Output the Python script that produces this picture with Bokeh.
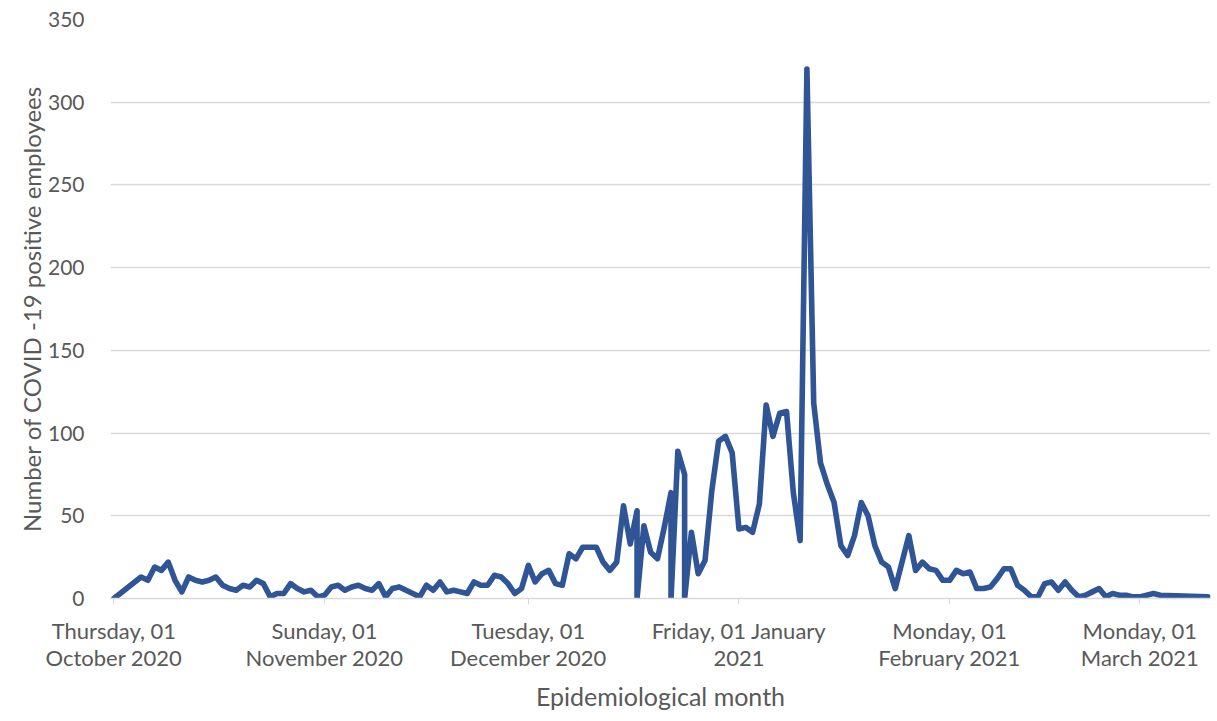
import pandas as pd
from bokeh.plotting import figure
from bokeh.models import Range1d, FixedTicker, ColumnDataSource
from bokeh.embed import file_html
from bokeh.resources import INLINE

# ---- data ----
report_dates = (
    ["2020-10-01", "2020-10-05", "2020-10-06", "2020-10-07", "2020-10-08", "2020-10-09",
     "2020-10-10", "2020-10-11", "2020-10-12", "2020-10-13", "2020-10-14", "2020-10-15",
     "2020-10-16", "2020-10-17", "2020-10-18", "2020-10-19", "2020-10-20", "2020-10-21",
     "2020-10-22", "2020-10-23", "2020-10-24", "2020-10-25", "2020-10-26", "2020-10-27",
     "2020-10-28", "2020-10-29", "2020-10-30", "2020-10-31"]
    + ["2020-11-%02d" % d for d in range(1, 31)]
    + ["2020-12-01", "2020-12-02", "2020-12-03", "2020-12-04", "2020-12-05", "2020-12-06",
       "2020-12-07", "2020-12-08", "2020-12-09", "2020-12-10", "2020-12-11", "2020-12-12",
       "2020-12-13", "2020-12-14", "2020-12-15", "2020-12-16", "2020-12-17", "2020-12-17",
       "2020-12-18", "2020-12-19", "2020-12-20", "2020-12-21", "2020-12-22", "2020-12-22",
       "2020-12-23", "2020-12-24", "2020-12-24", "2020-12-25", "2020-12-26", "2020-12-27",
       "2020-12-28", "2020-12-29", "2020-12-30", "2020-12-31"]
    + ["2021-01-%02d" % d for d in range(1, 32)]
    + ["2021-02-%02d" % d for d in range(1, 29)]
    + ["2021-03-01", "2021-03-02", "2021-03-03", "2021-03-04", "2021-03-11"]
)

oct_counts = [0, 13, 11, 19, 17, 22, 11, 4, 13, 11, 10, 11, 13, 8, 6, 5, 8, 7, 11, 9,
              1, 3, 3, 9, 6, 4, 5, 1]
nov_counts = [2, 7, 8, 5, 7, 8, 6, 5, 9, 1, 6, 7, 5, 3, 1, 8, 5, 10, 4, 5,
              4, 3, 10, 8, 8, 14, 13, 9, 3, 6]
dec_counts = [20, 10, 15, 17, 9, 8, 27, 24, 31, 31, 31, 22, 17, 22, 56, 33, 53, 0,
              44, 28, 24, 43, 64, 0, 89, 75, 0, 40, 15, 23, 65, 95, 98, 88]
jan_counts = [42, 43, 40, 57, 117, 98, 112, 113, 64, 35, 320, 118, 82, 69, 58, 32,
              26, 38, 58, 50, 32, 22, 19, 6, 22, 38, 17, 22, 18, 17, 11]
feb_counts = [11, 17, 15, 16, 6, 6, 7, 12, 18, 18, 8, 5, 1, 1, 9, 10, 5, 10, 5, 1,
              2, 4, 6, 1, 3, 2, 2, 1]
mar_counts = [1, 2, 3, 2, 1]
positives = oct_counts + nov_counts + dec_counts + jan_counts + feb_counts + mar_counts

month_starts = ["2020-10-01", "2020-11-01", "2020-12-01", "2021-01-01", "2021-02-01", "2021-03-01"]
month_labels = ["Thursday, 01\nOctober 2020", "Sunday, 01\nNovember 2020",
                "Tuesday, 01\nDecember 2020", "Friday, 01 January\n2021",
                "Monday, 01\nFebruary 2021", "Monday, 01\nMarch 2021"]
y_ticks = [0, 50, 100, 150, 200, 250, 300, 350]

# ---- build ----
origin = pd.Timestamp("2020-10-01")
day_pos = [(pd.Timestamp(d) - origin).days + 0.5 for d in report_dates]
tick_pos = [(pd.Timestamp(d) - origin).days + 0.5 for d in month_starts]

src = ColumnDataSource(dict(x=day_pos, y=positives))

FONT = "Lato"
GREY = "#595959"

p = figure(width=1217, height=721, output_backend="svg", toolbar_location=None,
           x_range=Range1d(0, 161.9), y_range=Range1d(0, 350),
           min_border_left=110, min_border_right=7, min_border_top=19, min_border_bottom=123)
p.outline_line_color = None
p.background_fill_color = "white"

p.line("x", "y", source=src, line_width=5.6, line_color="#2F5597",
       line_join="round", line_cap="round")

# x axis
xa = p.xaxis[0]
xa.ticker = FixedTicker(ticks=tick_pos)
xa.major_label_overrides = {t: lab for t, lab in zip(tick_pos, month_labels)}
xa.axis_line_color = "#D9D9D9"
xa.axis_line_width = 1.3
xa.major_tick_line_color = "#D9D9D9"
xa.major_tick_out = 6
xa.major_tick_in = 0
xa.minor_tick_line_color = None
xa.major_label_text_font = FONT
xa.major_label_text_font_size = "22px"
xa.major_label_text_color = GREY
xa.major_label_text_line_height = 1.0
xa.major_label_standoff = 12
xa.axis_label = "Epidemiological month"
xa.axis_label_text_font = FONT
xa.axis_label_text_font_size = "25px"
xa.axis_label_text_font_style = "normal"
xa.axis_label_text_color = GREY
xa.axis_label_standoff = 7

# y axis
ya = p.yaxis[0]
ya.ticker = FixedTicker(ticks=y_ticks)
ya.axis_line_color = None
ya.major_tick_line_color = None
ya.minor_tick_line_color = None
ya.major_label_text_font = FONT
ya.major_label_text_font_size = "21px"
ya.major_label_text_color = GREY
ya.major_label_standoff = 20
ya.axis_label = "Number of COVID -19 positive employees"
ya.axis_label_text_font = FONT
ya.axis_label_text_font_size = "24px"
ya.axis_label_text_font_style = "normal"
ya.axis_label_text_color = GREY
ya.axis_label_standoff = -1

p.xgrid.grid_line_color = None
p.ygrid.ticker = FixedTicker(ticks=y_ticks)
p.ygrid.grid_line_color = "#D9D9D9"
p.ygrid.grid_line_width = 1.3

open("out.html", "w").write(file_html(p, INLINE))
